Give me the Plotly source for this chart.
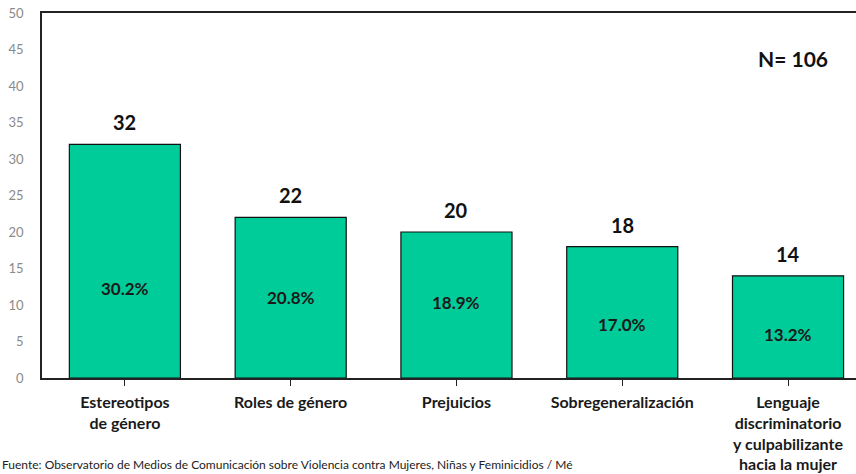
import plotly.graph_objects as go

categories = ["Estereotipos<br>de género", "Roles de género", "Prejuicios",
              "Sobregeneralización",
              "Lenguaje<br>discriminatorio<br>y culpabilizante<br>hacia la mujer"]
counts = [32, 22, 20, 18, 14]
percents = ["30.2%", "20.8%", "18.9%", "17.0%", "13.2%"]
pct_label_y = [12.3, 11.0, 10.4, 7.3, 5.9]
y_ticks = [0, 5, 10, 15, 20, 25, 30, 35, 40, 45, 50]
n_total = "N= 106"
source = "Fuente: Observatorio de Medios de Comunicación sobre Violencia contra Mujeres, Niñas y Feminicidios / Mé"

FONT = "Lato"

fig = go.Figure()
fig.add_trace(go.Bar(
    x=list(range(len(categories))), y=counts,
    marker=dict(color="#00CC99", line=dict(color="#111111", width=1.2)),
    width=0.67, hoverinfo="skip",
))

for i, (c, p, py) in enumerate(zip(counts, percents, pct_label_y)):
    fig.add_annotation(x=i, y=c, text=f"<b>{c}</b>", showarrow=False,
                       yanchor="bottom", yshift=8,
                       font=dict(family=FONT, size=20, color="#111111"))
    fig.add_annotation(x=i, y=py, text=f"<b>{p}</b>", showarrow=False,
                       font=dict(family=FONT, size=17, color="#1a1a1a"))

fig.add_annotation(x=0.922, y=0.915, xref="paper", yref="paper", text=f"<b>{n_total}</b>",
                   showarrow=False, xanchor="center",
                   font=dict(family=FONT, size=21, color="#111111"))
fig.add_annotation(x=0, y=0, xref="paper", yref="paper", text=source,
                   showarrow=False, xanchor="left", yanchor="top", xshift=-42, yshift=-77,
                   font=dict(family=FONT, size=12, color="#222222"))

fig.update_layout(
    width=856, height=474,
    margin=dict(l=42, r=0, t=13, b=96),
    paper_bgcolor="white", plot_bgcolor="white",
    showlegend=False, bargap=0.33,
    xaxis=dict(
        range=[-0.5, 4.41],
        tickvals=list(range(len(categories))), ticktext=[f"<b>{c}</b>" for c in categories],
        tickson="boundaries", ticks="outside", ticklen=6, tickcolor="#222222",
        showline=True, linecolor="#222222", linewidth=1.5, mirror=True,
        showgrid=False, zeroline=False, ticklabelstandoff=3,
        tickfont=dict(family=FONT, size=16, color="#1a1a1a"),
    ),
    yaxis=dict(
        range=[0, 50], tickvals=y_ticks,
        showline=True, linecolor="#222222", linewidth=1.5,
        showgrid=False, zeroline=False, ticks="", ticklabelstandoff=14,
        tickfont=dict(family=FONT, size=13, color="#8a8a8a"),
    ),
)

fig.write_html("out.html", config={"displayModeBar": False},
               post_script="document.body.style.margin='0px';")
